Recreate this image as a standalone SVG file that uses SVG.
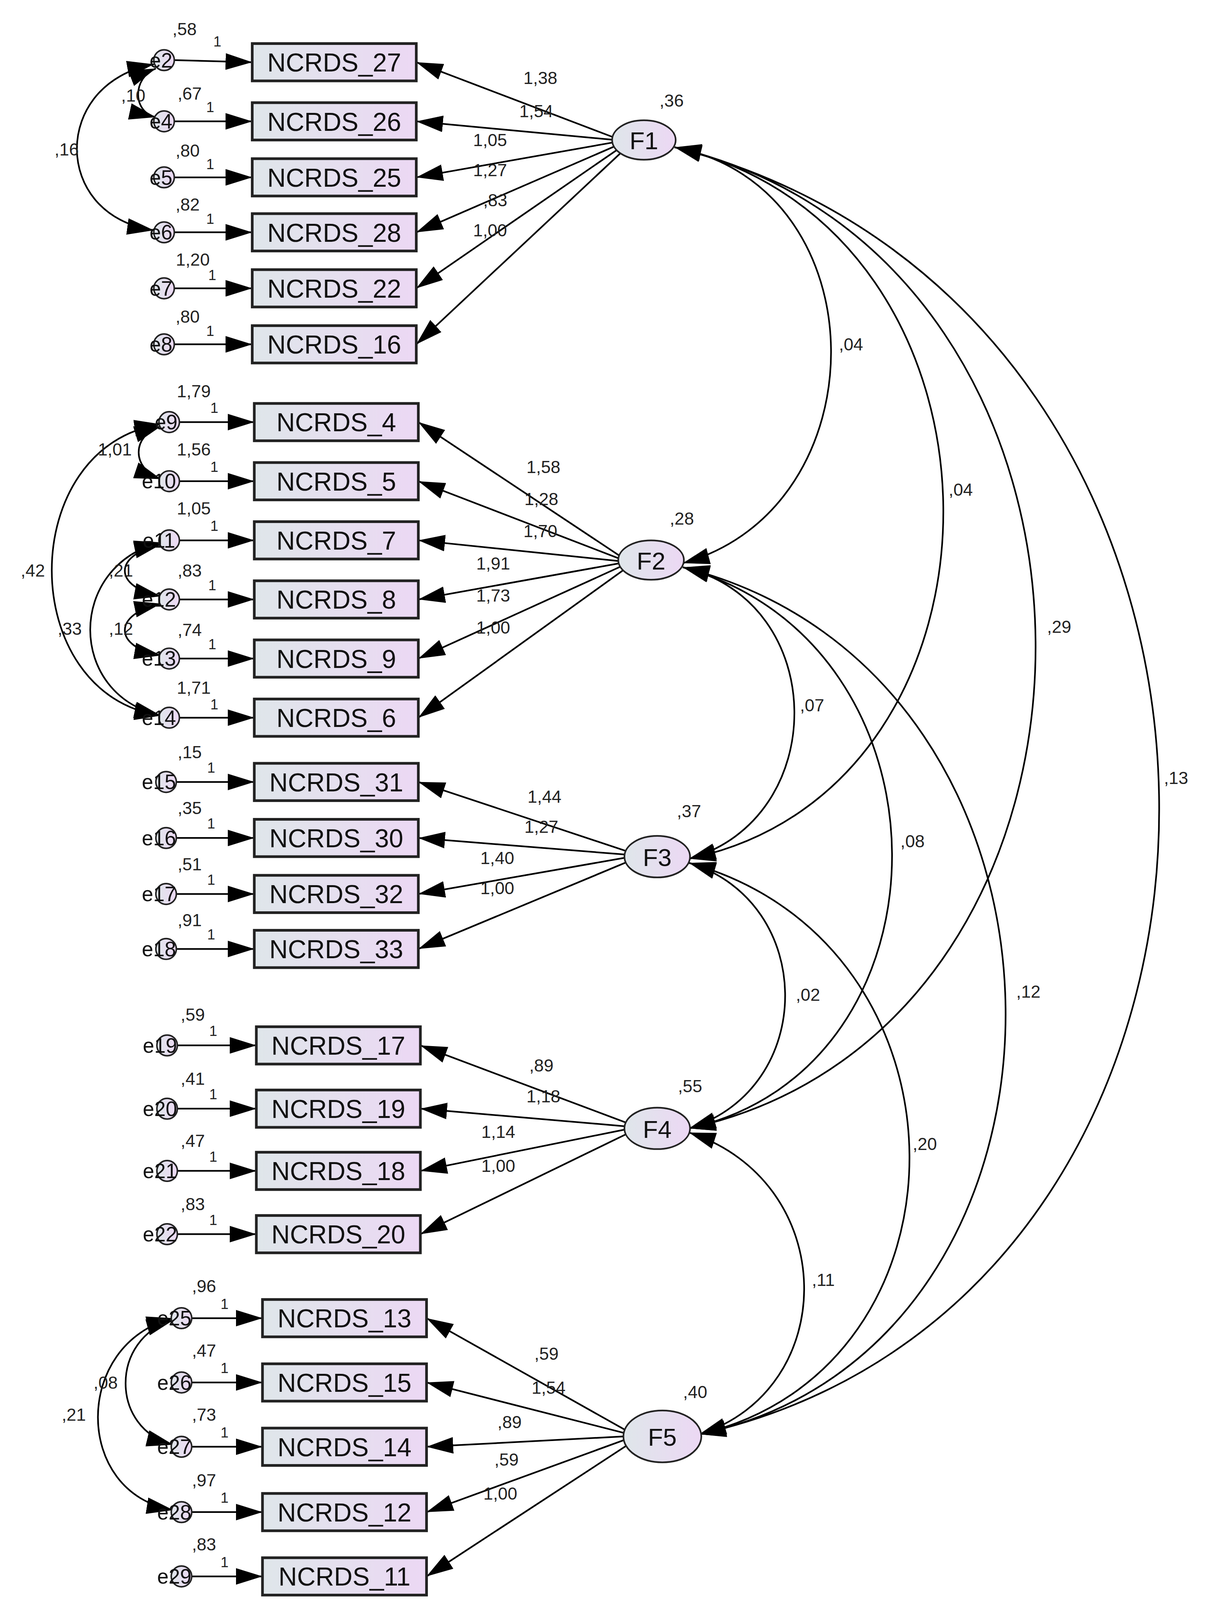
<svg xmlns="http://www.w3.org/2000/svg" width="3112" height="4128" viewBox="0 0 3112 4128">
<defs>
<linearGradient id="bg" x1="0" x2="1" y1="0" y2="0"><stop offset="0" stop-color="#dfe6ea"/><stop offset="1" stop-color="#ecd8f4"/></linearGradient>
<marker id="ah" viewBox="0 0 10 10" refX="10" refY="5" markerWidth="26" markerHeight="16" markerUnits="userSpaceOnUse" orient="auto-start-reverse" preserveAspectRatio="none"><path d="M0,0 L10,5 L0,10 z" fill="#000"/></marker>
<style>
.box{fill:url(#bg);stroke:#222;stroke-width:2.6}
.bt{font-family:"Liberation Sans",Arial,sans-serif;font-size:25px;fill:#111;text-anchor:middle}
.lat{fill:url(#bg);stroke:#222;stroke-width:1.6}
.lt{font-family:"Liberation Sans",Arial,sans-serif;font-size:24px;fill:#111;text-anchor:middle}
.err{fill:url(#bg);stroke:#222;stroke-width:1.5}
.et{font-family:"Liberation Sans",Arial,sans-serif;font-size:20px;fill:#111;text-anchor:middle}
.sm{font-family:"Liberation Sans",Arial,sans-serif;font-size:17px;fill:#222;text-anchor:middle}
.one{font-family:"Liberation Sans",Arial,sans-serif;font-size:14px;fill:#222;text-anchor:middle}
.ln{fill:none;stroke:#000;stroke-width:1.6;marker-end:url(#ah)}
.cv{fill:none;stroke:#000;stroke-width:1.6;marker-end:url(#ah);marker-start:url(#ah)}
</style>
</defs>
<rect width="3112" height="4128" fill="#fff"/>
<g transform="scale(2.624,2.655)">
<g id="connectors">
<path class="ln" d="M600,133 L406,60"/><path class="ln" d="M600,135 L406,117"/><path class="ln" d="M600,137 L406,171"/><path class="ln" d="M602,140 L406,224"/><path class="ln" d="M604,143 L406,278"/><path class="ln" d="M607,146 L406,332"/>
<path class="ln" d="M606,537 L408,407"/><path class="ln" d="M605,539 L408,464"/><path class="ln" d="M604,541 L408,521"/><path class="ln" d="M605,543 L408,578"/><path class="ln" d="M606,546 L408,635"/><path class="ln" d="M609,549 L408,692"/>
<path class="ln" d="M612,821 L408,754"/><path class="ln" d="M610,824 L408,808"/><path class="ln" d="M610,827 L408,862"/><path class="ln" d="M612,831 L408,915"/>
<path class="ln" d="M612,1083 L410,1008"/><path class="ln" d="M610,1086 L410,1069"/><path class="ln" d="M610,1089 L410,1129"/><path class="ln" d="M612,1093 L410,1190"/>
<path class="ln" d="M612,1380 L416,1271"/><path class="ln" d="M610,1382 L416,1333"/><path class="ln" d="M609,1385 L416,1395"/><path class="ln" d="M610,1388 L416,1458"/><path class="ln" d="M614,1392 L416,1520"/>
<path class="ln" d="M170,58 L246,60"/><path class="ln" d="M170,117 L246,117"/><path class="ln" d="M170,171 L246,171"/><path class="ln" d="M170,224 L246,224"/><path class="ln" d="M170,278 L246,278"/><path class="ln" d="M170,332 L246,332"/>
<path class="ln" d="M175,407 L248,407"/><path class="ln" d="M175,464 L248,464"/><path class="ln" d="M175,521 L248,521"/><path class="ln" d="M175,578 L248,578"/><path class="ln" d="M175,635 L248,635"/><path class="ln" d="M175,692 L248,692"/>
<path class="ln" d="M172,754 L248,754"/><path class="ln" d="M172,808 L248,808"/><path class="ln" d="M172,862 L248,862"/><path class="ln" d="M172,915 L248,915"/>
<path class="ln" d="M173,1008 L250,1008"/><path class="ln" d="M173,1069 L250,1069"/><path class="ln" d="M173,1129 L250,1129"/><path class="ln" d="M173,1190 L250,1190"/>
<path class="ln" d="M187,1271 L256,1271"/><path class="ln" d="M187,1333 L256,1333"/><path class="ln" d="M187,1395 L256,1395"/><path class="ln" d="M187,1458 L256,1458"/><path class="ln" d="M187,1520 L256,1520"/>
<path class="cv" d="M152,66 C129,75 129,108 152,113"/>
<path class="cv" d="M150,62 C50,80 50,208 150,222"/>
<path class="cv" d="M157,411 C128,420 128,452 157,462"/>
<path class="cv" d="M157,409 C15,430 15,670 157,690"/>
<path class="cv" d="M157,523 C65,545 65,670 157,690"/>
<path class="cv" d="M157,525 C110,535 110,566 157,575"/>
<path class="cv" d="M157,582 C110,592 110,624 157,632"/>
<path class="cv" d="M169,1273 C107,1290 107,1378 169,1393"/>
<path class="cv" d="M169,1271 C71,1295 71,1440 169,1456"/>
<path class="cv" d="M658,142 C860,180 860,490 666,543"/>
<path class="cv" d="M658,142 C1005,220 1005,760 672,828"/>
<path class="cv" d="M658,142 C1125,250 1125,990 672,1088"/>
<path class="cv" d="M658,142 C1284,300 1284,1250 682,1383"/>
<path class="cv" d="M666,547 C810,580 810,790 672,828"/>
<path class="cv" d="M666,547 C937,620 937,1030 672,1088"/>
<path class="cv" d="M666,547 C1083,650 1083,1300 682,1383"/>
<path class="cv" d="M672,832 C797,870 797,1050 672,1088"/>
<path class="cv" d="M672,832 C957,910 957,1320 682,1383"/>
<path class="cv" d="M672,1092 C820,1140 820,1340 682,1383"/>
</g>
<g id="covlabels">
<text class="sm" x="130" y="98">,10</text><text class="sm" x="65" y="150">,16</text>
<text class="sm" x="112" y="439">1,01</text><text class="sm" x="32" y="556">,42</text><text class="sm" x="118" y="556">,21</text><text class="sm" x="68" y="612">,33</text><text class="sm" x="118" y="612">,12</text>
<text class="sm" x="103" y="1339">,08</text><text class="sm" x="72" y="1370">,21</text>
<text class="sm" x="830" y="338">,04</text><text class="sm" x="937" y="478">,04</text><text class="sm" x="1033" y="610">,29</text><text class="sm" x="1147" y="756">,13</text>
<text class="sm" x="792" y="686">,07</text><text class="sm" x="890" y="817">,08</text><text class="sm" x="1003" y="962">,12</text>
<text class="sm" x="788" y="965">,02</text><text class="sm" x="902" y="1109">,20</text><text class="sm" x="803" y="1240">,11</text>
</g>
<g id="loadlabels">
<text class="sm" x="527" y="81">1,38</text><text class="sm" x="523" y="113">1,54</text><text class="sm" x="478" y="141">1,05</text><text class="sm" x="478" y="170">1,27</text><text class="sm" x="483" y="199">,83</text><text class="sm" x="478" y="228">1,00</text>
<text class="sm" x="530" y="456">1,58</text><text class="sm" x="528" y="487">1,28</text><text class="sm" x="527" y="518">1,70</text><text class="sm" x="481" y="549">1,91</text><text class="sm" x="481" y="580">1,73</text><text class="sm" x="481" y="611">1,00</text>
<text class="sm" x="531" y="774">1,44</text><text class="sm" x="528" y="803">1,27</text><text class="sm" x="485" y="833">1,40</text><text class="sm" x="485" y="862">1,00</text>
<text class="sm" x="528" y="1033">,89</text><text class="sm" x="530" y="1063">1,18</text><text class="sm" x="486" y="1097">1,14</text><text class="sm" x="486" y="1130">1,00</text>
<text class="sm" x="533" y="1311">,59</text><text class="sm" x="535" y="1344">1,54</text><text class="sm" x="497" y="1377">,89</text><text class="sm" x="494" y="1413">,59</text><text class="sm" x="488" y="1446">1,00</text>
</g>
<g id="F1"><ellipse class="lat" cx="628" cy="135" rx="31" ry="19"/><text class="lt" x="628" y="144">F1</text><text class="sm" x="655" y="103">,36</text></g>
<g id="F2"><ellipse class="lat" cx="635" cy="540" rx="32" ry="19"/><text class="lt" x="635" y="549">F2</text><text class="sm" x="665" y="506">,28</text></g>
<g id="F3"><ellipse class="lat" cx="641" cy="826" rx="32" ry="20"/><text class="lt" x="641" y="835">F3</text><text class="sm" x="672" y="788">,37</text></g>
<g id="F4"><ellipse class="lat" cx="641" cy="1088" rx="32" ry="20"/><text class="lt" x="641" y="1097">F4</text><text class="sm" x="673" y="1053">,55</text></g>
<g id="F5"><ellipse class="lat" cx="646" cy="1385" rx="38" ry="25"/><text class="lt" x="646" y="1394">F5</text><text class="sm" x="678" y="1348">,40</text></g>
<g id="NCRDS_27"><rect class="box" x="246" y="42" width="160" height="36"/><text class="bt" x="326" y="69">NCRDS_27</text></g>
<g id="NCRDS_26"><rect class="box" x="246" y="99" width="160" height="36"/><text class="bt" x="326" y="126">NCRDS_26</text></g>
<g id="NCRDS_25"><rect class="box" x="246" y="153" width="160" height="36"/><text class="bt" x="326" y="180">NCRDS_25</text></g>
<g id="NCRDS_28"><rect class="box" x="246" y="206" width="160" height="36"/><text class="bt" x="326" y="233">NCRDS_28</text></g>
<g id="NCRDS_22"><rect class="box" x="246" y="260" width="160" height="36"/><text class="bt" x="326" y="287">NCRDS_22</text></g>
<g id="NCRDS_16"><rect class="box" x="246" y="314" width="160" height="36"/><text class="bt" x="326" y="341">NCRDS_16</text></g>
<g id="NCRDS_4"><rect class="box" x="248" y="389" width="160" height="36"/><text class="bt" x="328" y="416">NCRDS_4</text></g>
<g id="NCRDS_5"><rect class="box" x="248" y="446" width="160" height="36"/><text class="bt" x="328" y="473">NCRDS_5</text></g>
<g id="NCRDS_7"><rect class="box" x="248" y="503" width="160" height="36"/><text class="bt" x="328" y="530">NCRDS_7</text></g>
<g id="NCRDS_8"><rect class="box" x="248" y="560" width="160" height="36"/><text class="bt" x="328" y="587">NCRDS_8</text></g>
<g id="NCRDS_9"><rect class="box" x="248" y="617" width="160" height="36"/><text class="bt" x="328" y="644">NCRDS_9</text></g>
<g id="NCRDS_6"><rect class="box" x="248" y="674" width="160" height="36"/><text class="bt" x="328" y="701">NCRDS_6</text></g>
<g id="NCRDS_31"><rect class="box" x="248" y="736" width="160" height="36"/><text class="bt" x="328" y="763">NCRDS_31</text></g>
<g id="NCRDS_30"><rect class="box" x="248" y="790" width="160" height="36"/><text class="bt" x="328" y="817">NCRDS_30</text></g>
<g id="NCRDS_32"><rect class="box" x="248" y="844" width="160" height="36"/><text class="bt" x="328" y="871">NCRDS_32</text></g>
<g id="NCRDS_33"><rect class="box" x="248" y="897" width="160" height="36"/><text class="bt" x="328" y="924">NCRDS_33</text></g>
<g id="NCRDS_17"><rect class="box" x="250" y="990" width="160" height="36"/><text class="bt" x="330" y="1017">NCRDS_17</text></g>
<g id="NCRDS_19"><rect class="box" x="250" y="1051" width="160" height="36"/><text class="bt" x="330" y="1078">NCRDS_19</text></g>
<g id="NCRDS_18"><rect class="box" x="250" y="1111" width="160" height="36"/><text class="bt" x="330" y="1138">NCRDS_18</text></g>
<g id="NCRDS_20"><rect class="box" x="250" y="1172" width="160" height="36"/><text class="bt" x="330" y="1199">NCRDS_20</text></g>
<g id="NCRDS_13"><rect class="box" x="256" y="1253" width="160" height="36"/><text class="bt" x="336" y="1280">NCRDS_13</text></g>
<g id="NCRDS_15"><rect class="box" x="256" y="1315" width="160" height="36"/><text class="bt" x="336" y="1342">NCRDS_15</text></g>
<g id="NCRDS_14"><rect class="box" x="256" y="1377" width="160" height="36"/><text class="bt" x="336" y="1404">NCRDS_14</text></g>
<g id="NCRDS_12"><rect class="box" x="256" y="1440" width="160" height="36"/><text class="bt" x="336" y="1467">NCRDS_12</text></g>
<g id="NCRDS_11"><rect class="box" x="256" y="1502" width="160" height="36"/><text class="bt" x="336" y="1529">NCRDS_11</text></g>
<g id="e2"><circle class="err" cx="160" cy="58" r="10"/><text class="et" x="157" y="65">e2</text><text class="sm" x="180" y="34">,58</text><text class="one" x="212" y="45">1</text></g>
<g id="e4"><circle class="err" cx="160" cy="117" r="10"/><text class="et" x="157" y="124">e4</text><text class="sm" x="185" y="96">,67</text><text class="one" x="205" y="108">1</text></g>
<g id="e5"><circle class="err" cx="160" cy="171" r="10"/><text class="et" x="157" y="178">e5</text><text class="sm" x="183" y="151">,80</text><text class="one" x="205" y="163">1</text></g>
<g id="e6"><circle class="err" cx="160" cy="224" r="10"/><text class="et" x="157" y="231">e6</text><text class="sm" x="183" y="203">,82</text><text class="one" x="205" y="216">1</text></g>
<g id="e7"><circle class="err" cx="160" cy="278" r="10"/><text class="et" x="157" y="285">e7</text><text class="sm" x="188" y="256">1,20</text><text class="one" x="207" y="270">1</text></g>
<g id="e8"><circle class="err" cx="160" cy="332" r="10"/><text class="et" x="157" y="339">e8</text><text class="sm" x="183" y="311">,80</text><text class="one" x="205" y="324">1</text></g>
<g id="e9"><circle class="err" cx="165" cy="407" r="10"/><text class="et" x="162" y="414">e9</text><text class="sm" x="189" y="383">1,79</text><text class="one" x="209" y="398">1</text></g>
<g id="e10"><circle class="err" cx="165" cy="464" r="10"/><text class="et" x="155" y="471">e10</text><text class="sm" x="189" y="439">1,56</text><text class="one" x="209" y="455">1</text></g>
<g id="e11"><circle class="err" cx="165" cy="521" r="10"/><text class="et" x="155" y="528">e11</text><text class="sm" x="189" y="496">1,05</text><text class="one" x="209" y="512">1</text></g>
<g id="e12"><circle class="err" cx="165" cy="578" r="10"/><text class="et" x="155" y="585">e12</text><text class="sm" x="185" y="556">,83</text><text class="one" x="207" y="569">1</text></g>
<g id="e13"><circle class="err" cx="165" cy="635" r="10"/><text class="et" x="155" y="642">e13</text><text class="sm" x="185" y="613">,74</text><text class="one" x="207" y="626">1</text></g>
<g id="e14"><circle class="err" cx="165" cy="692" r="10"/><text class="et" x="155" y="699">e14</text><text class="sm" x="189" y="669">1,71</text><text class="one" x="209" y="684">1</text></g>
<g id="e15"><circle class="err" cx="162" cy="754" r="10"/><text class="et" x="155" y="761">e15</text><text class="sm" x="185" y="731">,15</text><text class="one" x="206" y="745">1</text></g>
<g id="e16"><circle class="err" cx="162" cy="808" r="10"/><text class="et" x="155" y="815">e16</text><text class="sm" x="185" y="785">,35</text><text class="one" x="206" y="799">1</text></g>
<g id="e17"><circle class="err" cx="162" cy="862" r="10"/><text class="et" x="155" y="869">e17</text><text class="sm" x="185" y="839">,51</text><text class="one" x="206" y="853">1</text></g>
<g id="e18"><circle class="err" cx="162" cy="915" r="10"/><text class="et" x="155" y="922">e18</text><text class="sm" x="185" y="893">,91</text><text class="one" x="206" y="906">1</text></g>
<g id="e19"><circle class="err" cx="163" cy="1008" r="10"/><text class="et" x="156" y="1015">e19</text><text class="sm" x="188" y="984">,59</text><text class="one" x="208" y="999">1</text></g>
<g id="e20"><circle class="err" cx="163" cy="1069" r="10"/><text class="et" x="156" y="1076">e20</text><text class="sm" x="188" y="1046">,41</text><text class="one" x="208" y="1060">1</text></g>
<g id="e21"><circle class="err" cx="163" cy="1129" r="10"/><text class="et" x="156" y="1136">e21</text><text class="sm" x="188" y="1106">,47</text><text class="one" x="208" y="1120">1</text></g>
<g id="e22"><circle class="err" cx="163" cy="1190" r="10"/><text class="et" x="156" y="1197">e22</text><text class="sm" x="188" y="1167">,83</text><text class="one" x="208" y="1181">1</text></g>
<g id="e25"><circle class="err" cx="177" cy="1271" r="10"/><text class="et" x="170" y="1278">e25</text><text class="sm" x="199" y="1246">,96</text><text class="one" x="219" y="1262">1</text></g>
<g id="e26"><circle class="err" cx="177" cy="1333" r="10"/><text class="et" x="170" y="1340">e26</text><text class="sm" x="199" y="1308">,47</text><text class="one" x="219" y="1324">1</text></g>
<g id="e27"><circle class="err" cx="177" cy="1395" r="10"/><text class="et" x="170" y="1402">e27</text><text class="sm" x="199" y="1370">,73</text><text class="one" x="219" y="1386">1</text></g>
<g id="e28"><circle class="err" cx="177" cy="1458" r="10"/><text class="et" x="170" y="1465">e28</text><text class="sm" x="199" y="1433">,97</text><text class="one" x="219" y="1449">1</text></g>
<g id="e29"><circle class="err" cx="177" cy="1520" r="10"/><text class="et" x="170" y="1527">e29</text><text class="sm" x="199" y="1495">,83</text><text class="one" x="219" y="1511">1</text></g>
</g>
</svg>
